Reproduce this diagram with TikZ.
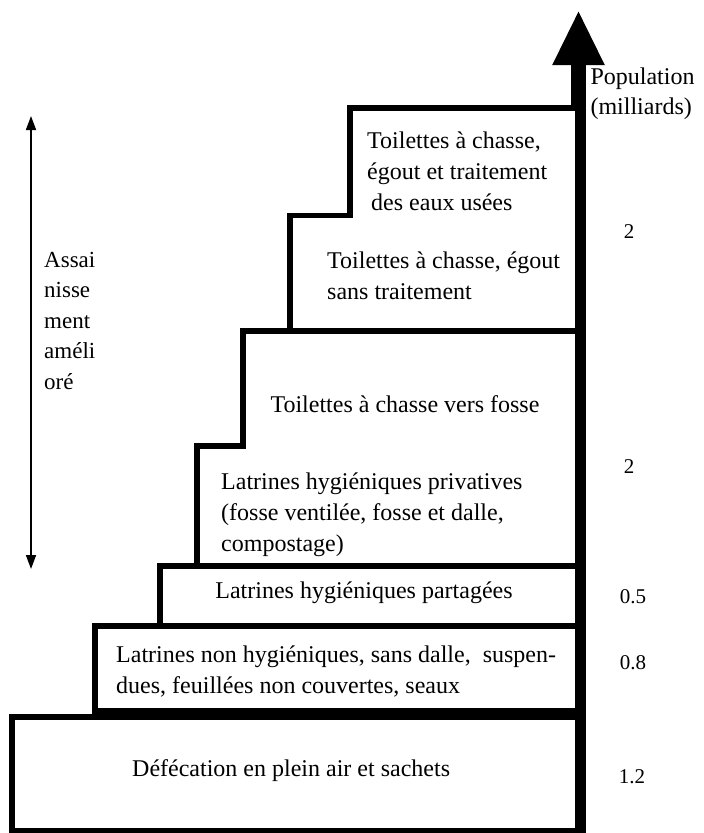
\documentclass[tikz,border=0pt]{standalone}
\usepackage{fontspec}
\setmainfont{Liberation Serif}
\usetikzlibrary{arrows.meta, positioning}
\tikzset{
	stepbox/.style  ={rectangle, inner sep=0pt, outer sep=0pt},
	stepline/.style ={draw=black, fill=white, line width=5.5pt},
	steptext/.style ={align=left, inner sep=0pt, font=\fontsize{24}{31}\selectfont},
	popnum/.style   ={font=\fontsize{21}{25}\selectfont},
	poparrow/.style ={-{Triangle[length=55pt, width=48pt]}, line width=15pt},
	rangearrow/.style={{Triangle[length=14pt, width=10pt]}-{Triangle[length=14pt, width=10pt]}, line width=1.6pt},
}
\begin{document}
\begin{tikzpicture}[x=1pt, y=-1pt]
	\useasboundingbox (0,0) rectangle (704,833);
	% population axis (behind the steps)
	\coordinate (popbase) at (578.5,833);
	\coordinate (poptip) at (578.5,10);
	\draw[poparrow] (popbase) -- (poptip);
	% steps, from the bottom up
	\node[stepbox, anchor=north west, minimum width=566pt, minimum height=114pt] (open) at (12,717) {};
	\node[stepbox, above left=6pt and 0pt of open.north east, minimum width=483pt, minimum height=85pt] (unimp) {};
	\node[stepbox, above left=0pt and 0pt of unimp.north east, minimum width=418pt, minimum height=60pt] (shared) {};
	\node[stepbox, above left=0pt and 0pt of shared.north east, minimum width=381pt, minimum height=120pt] (private) {};
	\node[stepbox, above left=0pt and 0pt of private.north east, minimum width=335pt, minimum height=115pt] (pit) {};
	\node[stepbox, above left=0pt and 0pt of pit.north east, minimum width=288pt, minimum height=115.5pt] (sewer) {};
	\node[stepbox, above left=0pt and 0pt of sewer.north east, minimum width=228pt, minimum height=107.5pt] (treat) {};
	\path[stepline] (open.south west) rectangle (open.north east);
	\path[stepline] (unimp.south west) rectangle (unimp.north east);
	\path[stepline] (shared.south west) rectangle (shared.north east);
	\path[stepline] (private.south east) -- (private.south west) |- (pit.south west) |- (pit.north east) -- cycle;
	\path[stepline] (sewer.south east) -- (sewer.south west) |- (treat.south west) |- (treat.north east) -- cycle;
	% step texts
	\node[steptext, anchor=west] (opentext) at (132,771) {Défécation en plein air et sachets};
	\node[steptext, anchor=west] (unimptext) at (116,671) {Latrines non hygiéniques, sans dalle,\ \ suspen-\\dues, feuillées non couvertes, seaux};
	\node[steptext] (sharedtext) at (364,593) {Latrines hygiéniques partagées};
	\node[steptext, anchor=west] (privatetext) at (221,515) {Latrines hygiéniques privatives\\(fosse ventilée, fosse et dalle,\\compostage)};
	\node[steptext] (pittext) at (405,404) {Toilettes à chasse vers fosse};
	\node[steptext, anchor=west] (sewertext) at (327,276) {Toilettes à chasse, égout\\sans traitement};
	\node[steptext, anchor=west] (treattext) at (367,171.5) {Toilettes à chasse,\\égout et traitement\\\hspace*{4pt}des eaux usées};
	% population labels
	\node[anchor=west, align=left, font=\fontsize{24}{30}\selectfont] (poplabel) at (587,94) {Population\\(milliards)};
	\node[popnum] (ntreat) at (629,232) {2};
	\node[popnum] (nprivate) at (629,467) {2};
	\node[popnum] (nshared) at (633,597) {0.5};
	\node[popnum] (nunimp) at (633,663) {0.8};
	\node[popnum] (nopen) at (632,777) {1.2};
	% improved range
	\coordinate (imptop) at (31,116);
	\coordinate (impbot) at (31,569);
	\draw[rangearrow] (impbot) -- (imptop);
	\node[anchor=north west, align=left, inner sep=0pt, font=\fontsize{23}{30.5}\selectfont] (implabel) at (44,252) {Assai\\nisse\\ment\\améli\\oré};
\end{tikzpicture}
\end{document}
